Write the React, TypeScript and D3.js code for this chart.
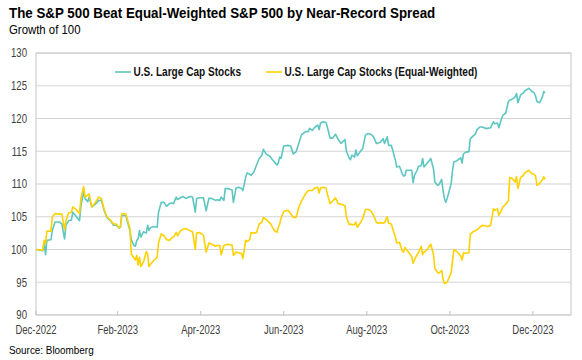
import React from "react";
import * as d3 from "d3";

const dates: string[] = [
  "2022-12-30","2023-01-04","2023-01-05","2023-01-06","2023-01-07","2023-01-10","2023-01-11","2023-01-13","2023-01-16","2023-01-18",
  "2023-01-20","2023-01-21","2023-01-23","2023-01-25","2023-01-26","2023-01-28","2023-01-31","2023-02-01","2023-02-03","2023-02-04",
  "2023-02-06","2023-02-07","2023-02-09","2023-02-12","2023-02-14","2023-02-16","2023-02-18","2023-02-20","2023-02-23","2023-02-25",
  "2023-02-27","2023-03-01","2023-03-02","2023-03-03","2023-03-06","2023-03-07","2023-03-09","2023-03-10","2023-03-12","2023-03-13",
  "2023-03-14","2023-03-15","2023-03-16","2023-03-17","2023-03-19","2023-03-21","2023-03-22","2023-03-23","2023-03-24","2023-03-26",
  "2023-03-29","2023-03-30","2023-04-01","2023-04-03","2023-04-05","2023-04-07","2023-04-09","2023-04-10","2023-04-12","2023-04-13",
  "2023-04-15","2023-04-17","2023-04-19","2023-04-21","2023-04-23","2023-04-24","2023-04-26","2023-04-27","2023-04-29","2023-05-02",
  "2023-05-04","2023-05-06","2023-05-08","2023-05-11","2023-05-12","2023-05-14","2023-05-15","2023-05-17","2023-05-18","2023-05-20",
  "2023-05-23","2023-05-24","2023-05-26","2023-05-28","2023-05-30","2023-05-31","2023-06-02","2023-06-03","2023-06-05","2023-06-06",
  "2023-06-08","2023-06-10","2023-06-12","2023-06-14","2023-06-15","2023-06-17","2023-06-20","2023-06-21","2023-06-23","2023-06-25",
  "2023-06-26","2023-06-27","2023-06-28","2023-06-30","2023-07-03","2023-07-05","2023-07-07","2023-07-09","2023-07-11","2023-07-13",
  "2023-07-16","2023-07-18","2023-07-19","2023-07-21","2023-07-23","2023-07-25","2023-07-26","2023-07-27","2023-07-29","2023-07-31",
  "2023-08-01","2023-08-03","2023-08-05","2023-08-07","2023-08-09","2023-08-11","2023-08-14","2023-08-15","2023-08-17","2023-08-18",
  "2023-08-19","2023-08-21","2023-08-22","2023-08-23","2023-08-25","2023-08-27","2023-08-29","2023-08-31","2023-09-02","2023-09-04",
  "2023-09-06","2023-09-07","2023-09-09","2023-09-11","2023-09-12","2023-09-14","2023-09-15","2023-09-17","2023-09-18","2023-09-20",
  "2023-09-21","2023-09-23","2023-09-25","2023-09-26","2023-09-27","2023-09-28","2023-09-30","2023-10-02","2023-10-03","2023-10-04",
  "2023-10-06","2023-10-07","2023-10-09","2023-10-10","2023-10-11","2023-10-13","2023-10-15","2023-10-16","2023-10-18","2023-10-19",
  "2023-10-21","2023-10-22","2023-10-24","2023-10-25","2023-10-26","2023-10-27","2023-10-28","2023-10-29","2023-10-31","2023-11-01",
  "2023-11-02","2023-11-04","2023-11-05","2023-11-07","2023-11-08","2023-11-09","2023-11-11","2023-11-13","2023-11-14","2023-11-16",
  "2023-11-18","2023-11-19","2023-11-21","2023-11-23","2023-11-25","2023-11-27","2023-11-29","2023-12-01","2023-12-02","2023-12-04",
  "2023-12-05","2023-12-07","2023-12-08","2023-12-10","2023-12-12","2023-12-13","2023-12-15","2023-12-17","2023-12-18","2023-12-19",
  "2023-12-21","2023-12-23","2023-12-24","2023-12-27","2023-12-29","2023-12-31","2024-01-01","2024-01-02","2024-01-04","2024-01-06",
  "2024-01-07","2024-01-08",
];

const largeCap: number[] = [
  100.0,99.8,101.1,99.2,101.4,101.5,102.9,104.2,104.2,103.9,
  101.6,103.7,104.4,104.5,105.7,105.2,104.4,106.7,108.8,107.8,
  107.3,108.0,106.5,107.0,107.5,107.5,106.0,104.9,104.3,103.7,
  103.7,103.3,103.4,105.2,105.2,104.4,102.9,101.5,100.6,100.5,
  101.4,101.6,102.9,101.9,102.7,102.5,103.7,102.9,103.3,103.5,
  103.4,105.7,107.2,107.2,106.6,107.0,107.1,107.0,108.0,107.6,
  107.9,108.1,107.8,108.0,108.1,108.0,105.7,107.8,107.9,107.9,
  105.9,107.8,107.8,107.5,107.6,107.5,108.0,107.5,109.3,109.3,
  109.1,107.2,109.4,109.5,109.3,109.0,111.0,111.7,111.5,111.3,
  111.8,112.9,113.9,114.4,115.3,114.6,114.2,113.9,113.4,112.9,
  113.2,114.1,113.9,115.8,115.9,115.8,114.6,114.9,116.2,117.5,
  118.0,118.0,118.5,118.2,118.7,119.0,118.3,119.3,119.5,119.4,
  118.7,117.0,117.0,117.6,116.8,116.2,116.8,115.0,114.0,113.7,
  114.4,114.1,115.2,114.3,114.9,115.4,117.5,117.7,117.6,117.2,
  116.2,116.2,116.4,116.9,116.2,117.2,115.9,115.9,115.2,113.6,
  112.6,112.7,111.6,111.2,111.3,112.1,112.1,112.1,110.2,111.3,
  112.1,112.7,112.8,113.9,112.6,113.1,113.6,113.9,112.3,110.3,
  109.8,109.9,110.7,109.0,107.8,107.2,107.8,108.5,110.1,112.1,
  113.4,113.5,113.7,114.0,113.2,114.6,114.9,114.9,116.9,117.3,
  117.7,118.3,118.7,118.7,118.5,118.5,118.6,119.5,119.2,119.3,
  118.6,120.0,120.5,120.8,122.6,122.8,123.0,123.3,123.8,122.4,
  123.6,123.9,124.2,124.6,124.2,123.9,123.4,122.6,122.4,123.3,
  124.1,123.9,
];

const equalWeighted: number[] = [
  100.0,99.9,101.4,100.9,102.8,102.8,105.0,105.5,105.4,105.4,
  103.0,104.4,105.6,105.7,106.5,106.2,105.5,107.8,109.6,108.0,
  108.3,108.5,106.5,107.3,108.0,107.8,106.2,105.0,104.4,103.9,
  103.9,103.3,103.5,105.5,105.4,104.7,103.2,99.3,98.7,98.4,
  99.1,97.6,98.8,97.4,98.1,99.7,99.3,97.4,97.7,98.2,
  98.8,101.0,102.4,102.1,101.5,101.4,101.8,101.9,102.6,102.1,
  102.8,103.1,103.2,103.0,102.8,102.7,100.0,102.5,102.6,102.2,
  99.6,101.0,100.8,100.5,100.6,100.6,99.2,100.6,100.7,100.8,
  100.7,99.1,99.6,99.5,99.4,98.6,101.4,101.2,101.5,102.6,
  102.5,102.6,103.9,104.2,104.9,104.6,104.0,103.7,102.9,102.6,
  103.4,103.9,104.8,105.8,106.0,105.5,104.9,104.9,106.4,107.4,
  108.5,109.0,109.0,109.0,109.4,109.5,108.6,109.4,109.5,109.4,
  108.5,107.0,107.4,107.9,107.0,106.9,106.7,105.0,103.8,103.9,
  103.8,103.8,104.2,103.4,104.0,104.7,106.1,106.1,105.9,105.2,
  104.2,104.0,104.1,104.0,104.1,105.0,104.0,103.9,103.2,101.9,
  101.0,101.1,99.8,99.6,100.3,100.0,99.5,98.9,97.9,98.4,
  99.2,99.5,100.5,99.2,99.6,99.9,100.5,100.8,99.2,97.1,
  96.5,96.4,96.8,95.5,94.8,94.9,95.0,95.5,96.5,98.3,
  100.0,99.7,99.5,99.0,98.4,99.5,99.4,99.5,102.3,102.7,
  102.9,103.0,103.4,103.7,103.6,103.5,103.7,106.2,106.0,106.2,
  105.2,106.0,106.5,106.9,107.4,111.0,110.8,110.3,111.1,109.3,
  111.0,111.3,111.7,112.1,111.6,111.5,111.2,109.8,110.1,110.6,
  111.1,110.7,
];

const seriesNames = ["U.S. Large Cap Stocks", "U.S. Large Cap Stocks (Equal-Weighted)"];
const yTicks = [90, 95, 100, 105, 110, 115, 120, 125, 130];
const xTickDates = ["2022-12-30", "2023-02-28", "2023-04-30", "2023-06-30", "2023-08-30", "2023-10-30", "2023-12-30"];
const xTickLabels = ["Dec-2022", "Feb-2023", "Apr-2023", "Jun-2023", "Aug-2023", "Oct-2023", "Dec-2023"];
const xDomain = ["2022-12-30", "2024-01-27"];

const W = 582;
const H = 360;
const M = { left: 36, right: 571, top: 53, bottom: 315 };
const COLORS = ["#5dc6c1", "#ffd100"];
const SANS = "'Liberation Sans', Arial, sans-serif";

type NTProps = {
  x: number;
  y: number;
  sx: number;
  size: number;
  anchor?: "start" | "middle" | "end";
  weight?: string;
  fill?: string;
  dy?: string;
  children: React.ReactNode;
};

function NText({ x, y, sx, size, anchor = "start", weight = "normal", fill = "#000", dy, children }: NTProps) {
  return (
    <text
      transform={`translate(${x},${y}) scale(${sx},1)`}
      textAnchor={anchor}
      fontFamily={SANS}
      fontWeight={weight}
      fontSize={size}
      fill={fill}
      dy={dy}
    >
      {children}
    </text>
  );
}

export default function App() {
  const parse = d3.utcParse("%Y-%m-%d");
  const x = d3
    .scaleUtc()
    .domain(xDomain.map((d) => parse(d) as Date))
    .range([M.left, M.right]);
  const y = d3.scaleLinear().domain([90, 130]).range([M.bottom, M.top]);
  const pts = dates.map((d) => parse(d) as Date);
  const series = [largeCap, equalWeighted];
  const line = d3
    .line<number>()
    .x((_, i) => x(pts[i]))
    .y((v) => y(v));

  const legendY = 72;
  const legend = [
    { x0: 115, name: seriesNames[0], color: COLORS[0] },
    { x0: 266, name: seriesNames[1], color: COLORS[1] },
  ];

  return (
    <svg
      width={W}
      height={H}
      style={{ position: "absolute", left: 0, top: 0, background: "#fff" }}
    >
      <rect x={0} y={0} width={W} height={H} fill="#fff" />
      <NText x={9} y={18} sx={0.89} size={15} weight="bold">
        The S&amp;P 500 Beat Equal-Weighted S&amp;P 500 by Near-Record Spread
      </NText>
      <NText x={9} y={34} sx={0.95} size={12} fill="#000">
        Growth of 100
      </NText>

      {yTicks.map((t) => (
        <g key={t}>
          <line x1={M.left} x2={M.right} y1={y(t)} y2={y(t)} stroke="#d4d4d4" strokeWidth={1.2} />
          <NText x={27} y={y(t)} dy="0.36em" sx={0.8} size={12} anchor="end" fill="#404040">
            {t}
          </NText>
        </g>
      ))}

      <rect
        x={M.left}
        y={M.top}
        width={M.right - M.left}
        height={M.bottom - M.top}
        fill="none"
        stroke="#cfcfcf"
        strokeWidth={1.2}
      />

      {xTickDates.map((d, i) => {
        const xx = x(parse(d) as Date);
        return (
          <g key={d}>
            <line x1={xx} x2={xx} y1={M.bottom} y2={M.bottom - 4} stroke="#bfbfbf" strokeWidth={1} />
            <NText x={xx} y={334} sx={0.79} size={12} anchor="middle" fill="#404040">
              {xTickLabels[i]}
            </NText>
          </g>
        );
      })}

      {series.map((s, i) => (
        <path
          key={i}
          d={line(s) || ""}
          fill="none"
          stroke={COLORS[i]}
          strokeWidth={1.6}
          strokeLinejoin="round"
        />
      ))}

      {legend.map((l) => (
        <g key={l.name}>
          <line x1={l.x0} x2={l.x0 + 16} y1={legendY} y2={legendY} stroke={l.color} strokeWidth={1.6} />
          <NText x={l.x0 + 18.5} y={legendY} dy="0.36em" sx={0.84} size={12} weight="bold" fill="#111">
            {l.name}
          </NText>
        </g>
      ))}

      <NText x={9} y={354} sx={0.9} size={11} fill="#000">
        Source: Bloomberg
      </NText>
    </svg>
  );
}
